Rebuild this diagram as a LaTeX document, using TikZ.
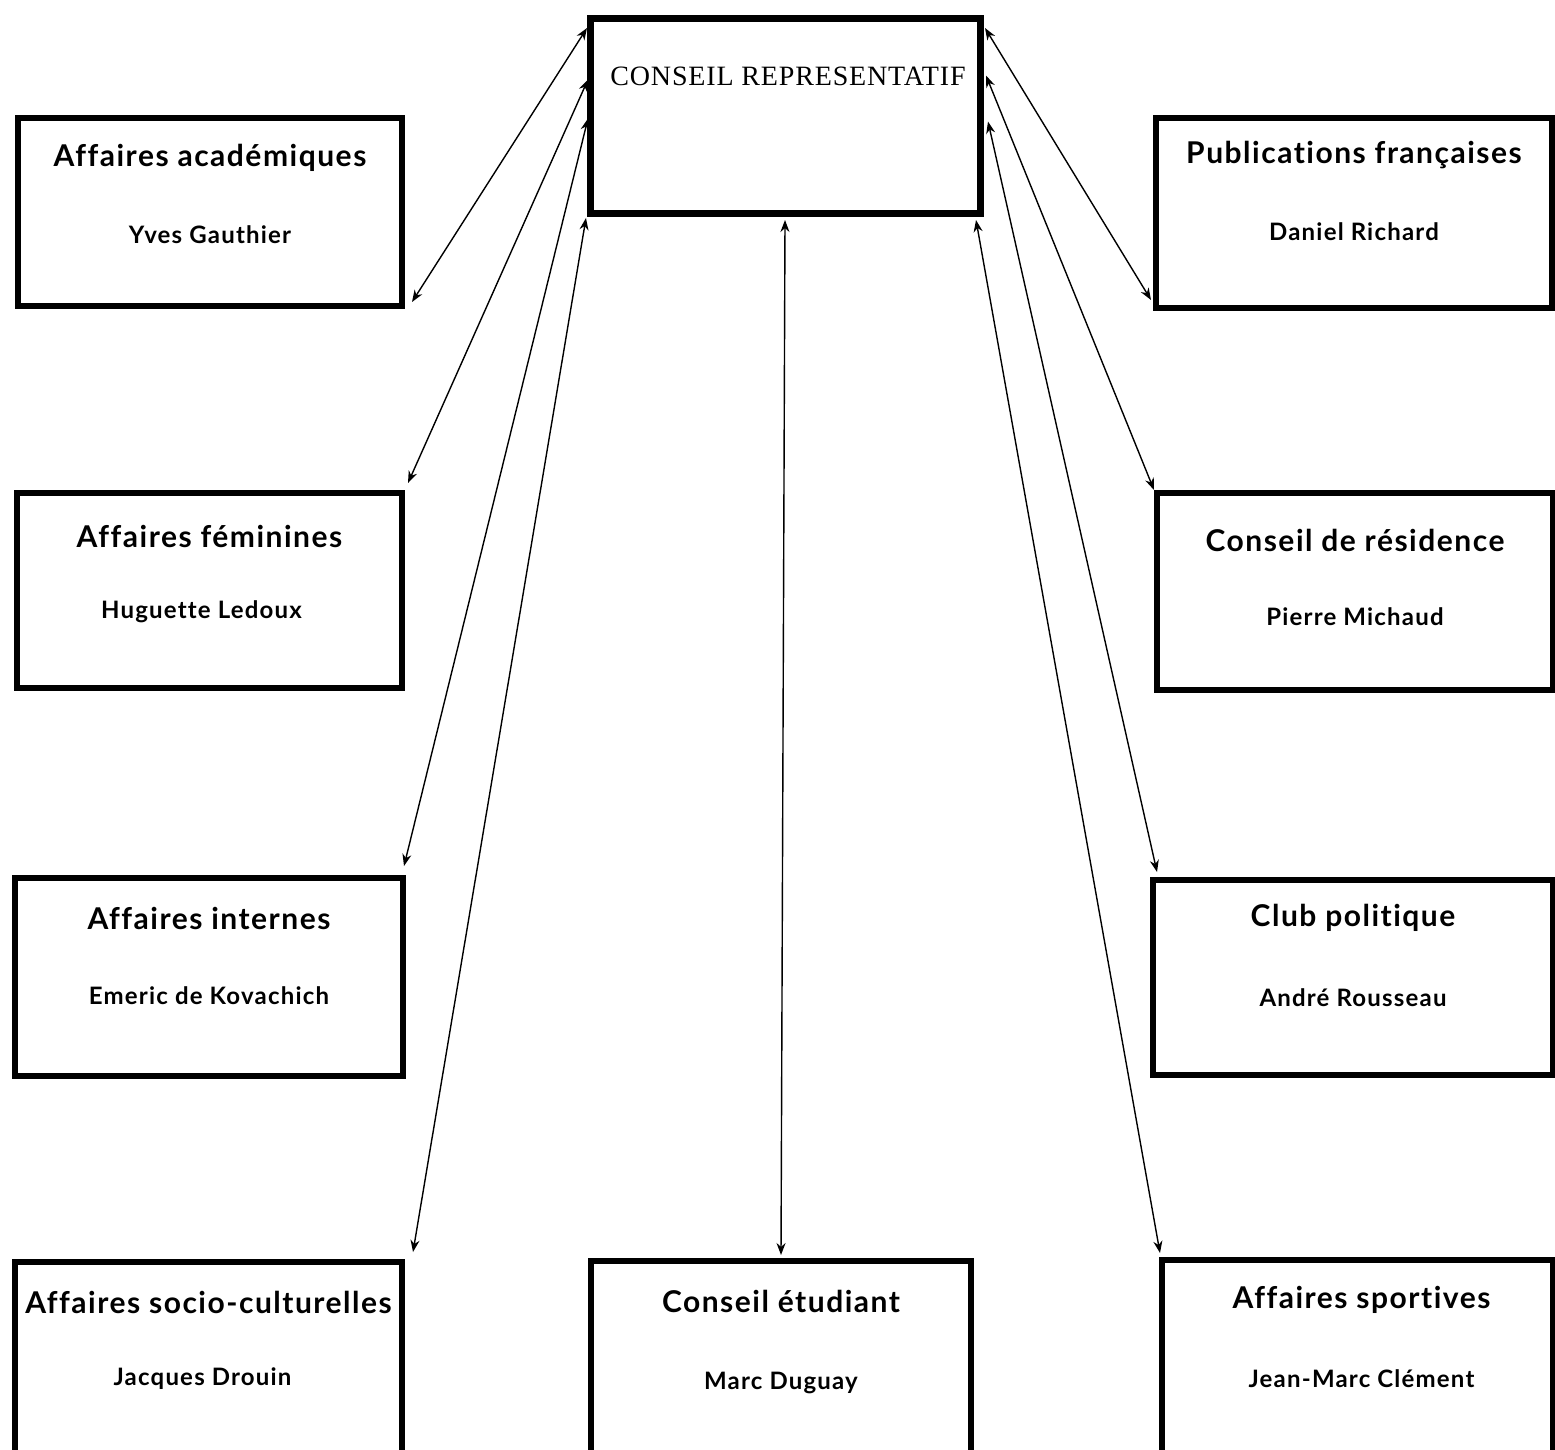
\documentclass[tikz,border=0pt]{standalone}
\usepackage{fontspec}
\setmainfont{Liberation Serif}[LetterSpace=3]
\newfontfamily\orgfont{Lato}[LetterSpace=5, Ligatures={NoCommon}]
\usetikzlibrary{arrows.meta}

\tikzset{
    orgbox/.style={draw, line width=6pt, inner sep=0pt, outer sep=0pt},
    boxtitle/.style={font=\orgfont\bfseries\fontsize{30}{34}\selectfont, inner sep=0pt},
    boxperson/.style={font=\orgfont\bfseries\fontsize{24}{28}\selectfont, inner sep=0pt},
    link/.style={{Stealth[length=12pt,width=9pt]}-{Stealth[length=12pt,width=9pt]}, line width=1.4pt}
}

\begin{document}
\begin{tikzpicture}[x=1pt,y=-1pt]
        \useasboundingbox (0,0) rectangle (1555,1449);
        \clip (0,0) rectangle (1555,1449);
        \fill[white] (0,0) rectangle (1555,1449);
        %% central council
        \node[orgbox, line width=7pt, minimum width=390pt, minimum height=195pt] (rep) at (785,115.5) {};
        \node[font=\fontsize{28}{32}\selectfont, inner sep=0pt] (reptitle) at ([xshift=3pt,yshift=-58pt]rep.north) {CONSEIL REPRESENTATIF};
        %% left column
        \node[orgbox, minimum width=384pt, minimum height=188pt] (acad) at (210,212) {};
        \node[boxtitle] (acadtitle) at ([yshift=-40pt]acad.north) {Affaires académiques};
        \node[boxperson] (acadname) at ([yshift=-117pt]acad.north) {Yves Gauthier};
        \node[orgbox, minimum width=385pt, minimum height=195pt] (fem) at (209.5,590.5) {};
        \node[boxtitle] (femtitle) at ([yshift=-43pt]fem.north) {Affaires féminines};
        \node[boxperson] (femname) at ([yshift=-119pt,xshift=-8pt]fem.north) {Huguette Ledoux};
        \node[orgbox, minimum width=388pt, minimum height=198pt] (int) at (209,977) {};
        \node[boxtitle] (inttitle) at ([yshift=-40pt]int.north) {Affaires internes};
        \node[boxperson] (intname) at ([yshift=-118pt]int.north) {Emeric de Kovachich};
        \node[orgbox, minimum width=387pt, minimum height=200pt] (soc) at (208.5,1362) {};
        \node[boxtitle] (soctitle) at ([yshift=-40pt]soc.north) {Affaires socio-culturelles};
        \node[boxperson] (socname) at ([yshift=-117pt,xshift=-6pt]soc.north) {Jacques Drouin};
        %% centre bottom
        \node[orgbox, minimum width=380pt, minimum height=200pt] (etu) at (781,1361) {};
        \node[boxtitle] (etutitle) at ([yshift=-40pt]etu.north) {Conseil étudiant};
        \node[boxperson] (etuname) at ([yshift=-122pt]etu.north) {Marc Duguay};
        %% right column
        \node[orgbox, minimum width=396pt, minimum height=190pt] (pub) at (1354,213) {};
        \node[boxtitle] (pubtitle) at ([yshift=-37pt]pub.north) {Publications françaises};
        \node[boxperson] (pubname) at ([yshift=-114pt]pub.north) {Daniel Richard};
        \node[orgbox, minimum width=396pt, minimum height=197pt] (res) at (1355,591.5) {};
        \node[boxtitle] (restitle) at ([yshift=-47pt]res.north) {Conseil de résidence};
        \node[boxperson] (resname) at ([yshift=-124pt]res.north) {Pierre Michaud};
        \node[orgbox, minimum width=400pt, minimum height=195pt] (club) at (1353,977.5) {};
        \node[boxtitle] (clubtitle) at ([yshift=-38pt]club.north) {Club politique};
        \node[boxperson] (clubname) at ([yshift=-118pt]club.north) {André Rousseau};
        \node[orgbox, minimum width=391pt, minimum height=200pt] (spo) at (1357.5,1360) {};
        \node[boxtitle] (spotitle) at ([yshift=-40pt,xshift=4pt]spo.north) {Affaires sportives};
        \node[boxperson] (sponame) at ([yshift=-119pt,xshift=4pt]spo.north) {Jean-Marc Clément};
        %% links to the council
        \draw[link] ([xshift=-3pt,yshift=-10pt]rep.north west) -- ([xshift=10pt,yshift=4pt]acad.south east);
        \draw[link] ([xshift=-2pt,yshift=36pt]rep.west) -- ([xshift=6pt,yshift=10pt]fem.north east);
        \draw[link] ([xshift=-2pt,yshift=-3pt]rep.west) -- ([xshift=1pt,yshift=12pt]int.north east);
        \draw[link] ([xshift=-4pt,yshift=-5pt]rep.south west) -- ([xshift=11pt,yshift=10pt]soc.north east);
        \draw[link] ([yshift=-7pt]rep.south) -- ([yshift=6pt]etu.north);
        \draw[link] ([xshift=5pt,yshift=-10pt]rep.north east) -- ([xshift=-5pt,yshift=8pt]pub.south west);
        \draw[link] ([xshift=6pt,yshift=40pt]rep.east) -- ([xshift=-3pt,yshift=3pt]res.north west);
        \draw[link] ([xshift=8pt,yshift=-6pt]rep.east) -- ([xshift=4pt,yshift=8pt]club.north west);
        \draw[link] ([xshift=-4pt,yshift=-7pt]rep.south east) -- ([xshift=-2pt,yshift=7pt]spo.north west);
\end{tikzpicture}
\end{document}
